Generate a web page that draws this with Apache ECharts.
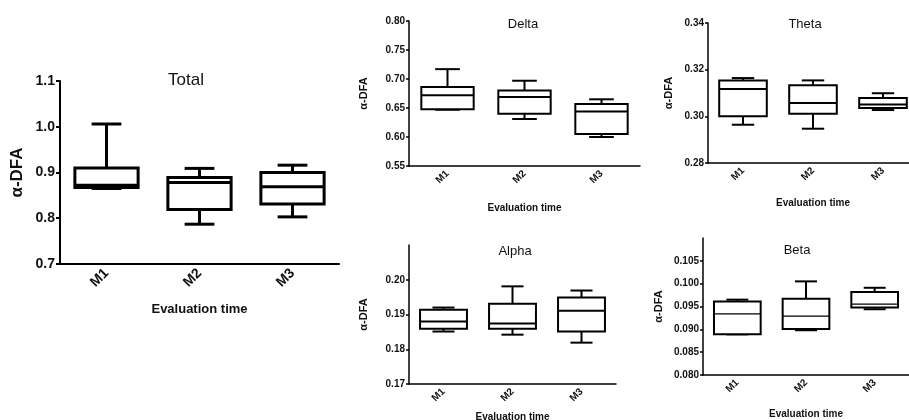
<!DOCTYPE html>
<html>
<head>
<meta charset="utf-8">
<script src="https://cdn.jsdelivr.net/npm/echarts@6/dist/echarts.min.js"></script>
<style>
  html, body { margin: 0; padding: 0; background: #fff; }
  #chart { width: 909px; height: 420px; }
</style>
</head>
<body>
<div id="chart"></div>
<script>
var categories = ['M1', 'M2', 'M3'];

// each row: [min, Q1, median, Q3, max]
var totalBox = [[0.865, 0.867, 0.872, 0.910, 1.006], [0.787, 0.819, 0.878, 0.889, 0.909], [0.803, 0.831, 0.869, 0.900, 0.916]];
var deltaBox = [[0.647, 0.648, 0.672, 0.686, 0.717], [0.631, 0.640, 0.669, 0.680, 0.697], [0.600, 0.605, 0.644, 0.657, 0.665]];
var thetaBox = [[0.2964, 0.3000, 0.3117, 0.3154, 0.3164], [0.2947, 0.3011, 0.3057, 0.3133, 0.3154], [0.3027, 0.3036, 0.3051, 0.3079, 0.3099]];
var alphaBox = [[0.1851, 0.1859, 0.1880, 0.1914, 0.1920], [0.1842, 0.1859, 0.1874, 0.1931, 0.1981], [0.1819, 0.1851, 0.1911, 0.1949, 0.1969]];
var betaBox = [[0.0889, 0.0889, 0.0934, 0.0961, 0.0965], [0.0898, 0.0901, 0.0929, 0.0967, 0.1005], [0.0944, 0.0948, 0.0955, 0.0982, 0.0991]];

// tick labels
var totalTicks = [0.7, 0.8, 0.9, 1.0, 1.1];
var deltaTicks = [0.55, 0.60, 0.65, 0.70, 0.75, 0.80];
var thetaTicks = [0.28, 0.30, 0.32, 0.34];
var alphaTicks = [0.17, 0.18, 0.19, 0.20];
var betaTicks = [0.080, 0.085, 0.090, 0.095, 0.100, 0.105];

var FONT = 'Liberation Sans, Arial, sans-serif';

var panels = [
  {title: 'Total', data: totalBox, ticks: totalTicks, min: 0.7, max: 1.1, dec: 1,
   grid: {left: 60, top: 81, width: 279, height: 183}, tpos: [186, 80], tsize: 17,
   lab: 14, nameSize: 17, xNameSize: 13, yGap: 34, xGap: 39, lw: 3, mlw: 3, axw: 2, tick: 4, margin: 5},
  {title: 'Delta', data: deltaBox, ticks: deltaTicks, min: 0.55, max: 0.80, dec: 2,
   grid: {left: 409, top: 21, width: 231, height: 145}, tpos: [523, 24], tsize: 13,
   lab: 10, nameSize: 11, xNameSize: 10, yGap: 40, xGap: 37, lw: 2, mlw: 2, axw: 1.5, tick: 3, margin: 4},
  {title: 'Theta', data: thetaBox, ticks: thetaTicks, min: 0.28, max: 0.34, dec: 2,
   grid: {left: 708, top: 23, width: 210, height: 140}, tpos: [805, 24], tsize: 13,
   lab: 10, nameSize: 11, xNameSize: 10, yGap: 34, xGap: 35, lw: 2, mlw: 2, axw: 1.5, tick: 3, margin: 4},
  {title: 'Alpha', data: alphaBox, ticks: alphaTicks, min: 0.17, max: 0.21, dec: 2,
   grid: {left: 409, top: 245, width: 207, height: 139}, tpos: [515, 251], tsize: 13,
   lab: 10, nameSize: 11, xNameSize: 10, yGap: 40, xGap: 28, lw: 2, mlw: 2, axw: 1.5, tick: 3, margin: 4},
  {title: 'Beta', data: betaBox, ticks: betaTicks, min: 0.080, max: 0.110, dec: 3,
   grid: {left: 703, top: 238, width: 206, height: 137}, tpos: [797, 250], tsize: 13,
   lab: 10, nameSize: 11, xNameSize: 10, yGap: 39, xGap: 34, lw: 2, mlw: 1.2, axw: 1.5, tick: 3, margin: 4}
];

function boxRenderer(lw, mlw) {
  return function (params, api) {
    var i = api.value(0);
    var band = api.size([1, 0])[0];
    var bw = band * 0.68, cw = band * 0.32;
    var pMin = api.coord([i, api.value(1)]);
    var pQ1 = api.coord([i, api.value(2)]);
    var pMed = api.coord([i, api.value(3)]);
    var pQ3 = api.coord([i, api.value(4)]);
    var pMax = api.coord([i, api.value(5)]);
    var cx = pMed[0];
    function ln(x1, y1, x2, y2, w) {
      return {type: 'line', shape: {x1: x1, y1: y1, x2: x2, y2: y2},
              style: {stroke: '#000', lineWidth: w, fill: null}};
    }
    return {
      type: 'group',
      children: [
        ln(cx, pQ3[1], cx, pMax[1], lw),
        ln(cx - cw / 2, pMax[1], cx + cw / 2, pMax[1], lw),
        ln(cx, pQ1[1], cx, pMin[1], lw),
        ln(cx - cw / 2, pMin[1], cx + cw / 2, pMin[1], lw),
        {type: 'rect', shape: {x: cx - bw / 2, y: pQ3[1], width: bw, height: pQ1[1] - pQ3[1]},
         style: {stroke: '#000', lineWidth: lw, fill: '#fff'}},
        ln(cx - bw / 2, pMed[1], cx + bw / 2, pMed[1], mlw)
      ]
    };
  };
}

var option = {
  backgroundColor: '#fff',
  animation: false,
  title: [], grid: [], xAxis: [], yAxis: [], series: []
};

panels.forEach(function (p, k) {
  option.title.push({
    text: p.title, left: p.tpos[0], top: p.tpos[1], padding: 0,
    textAlign: 'center', textVerticalAlign: 'middle',
    textStyle: {fontFamily: FONT, fontWeight: 'normal', fontSize: p.tsize, color: '#111'}
  });
  option.grid.push(Object.assign({containLabel: false, outerBoundsMode: 'none'}, p.grid));
  option.xAxis.push({
    type: 'category', gridIndex: k, data: categories,
    name: 'Evaluation time', nameLocation: 'middle', nameGap: p.xGap,
    nameTextStyle: {fontFamily: FONT, fontWeight: 'bold', fontSize: p.xNameSize, color: '#111'},
    axisLine: {onZero: false, lineStyle: {color: '#000', width: p.axw}},
    axisTick: {alignWithLabel: true, length: p.tick, lineStyle: {color: '#000', width: p.axw}},
    axisLabel: {rotate: 45, fontFamily: FONT, fontWeight: 'bold', fontSize: p.lab, color: '#111', margin: p.margin + 2},
    splitLine: {show: false}
  });
  option.yAxis.push({
    type: 'value', gridIndex: k, min: p.min, max: p.max,
    name: 'α-DFA', nameLocation: 'middle', nameGap: p.yGap,
    nameTextStyle: {fontFamily: FONT, fontWeight: 'bold', fontSize: p.nameSize, color: '#111'},
    axisLine: {show: true, lineStyle: {color: '#000', width: p.axw}},
    axisTick: {show: true, length: p.tick, customValues: p.ticks, lineStyle: {color: '#000', width: p.axw}},
    axisLabel: {
      customValues: p.ticks, fontFamily: FONT, fontWeight: 'bold', fontSize: p.lab, color: '#111', margin: p.margin,
      formatter: function (v) { return Number(v).toFixed(p.dec); }
    },
    splitLine: {show: false}
  });
  option.series.push({
    type: 'custom', xAxisIndex: k, yAxisIndex: k,
    renderItem: boxRenderer(p.lw, p.mlw),
    encode: {x: 0, y: [1, 2, 3, 4, 5]},
    data: p.data.map(function (row, i) { return [i].concat(row); })
  });
});

var myChart = echarts.init(document.getElementById('chart'));
myChart.setOption(option);
</script>
</body>
</html>
